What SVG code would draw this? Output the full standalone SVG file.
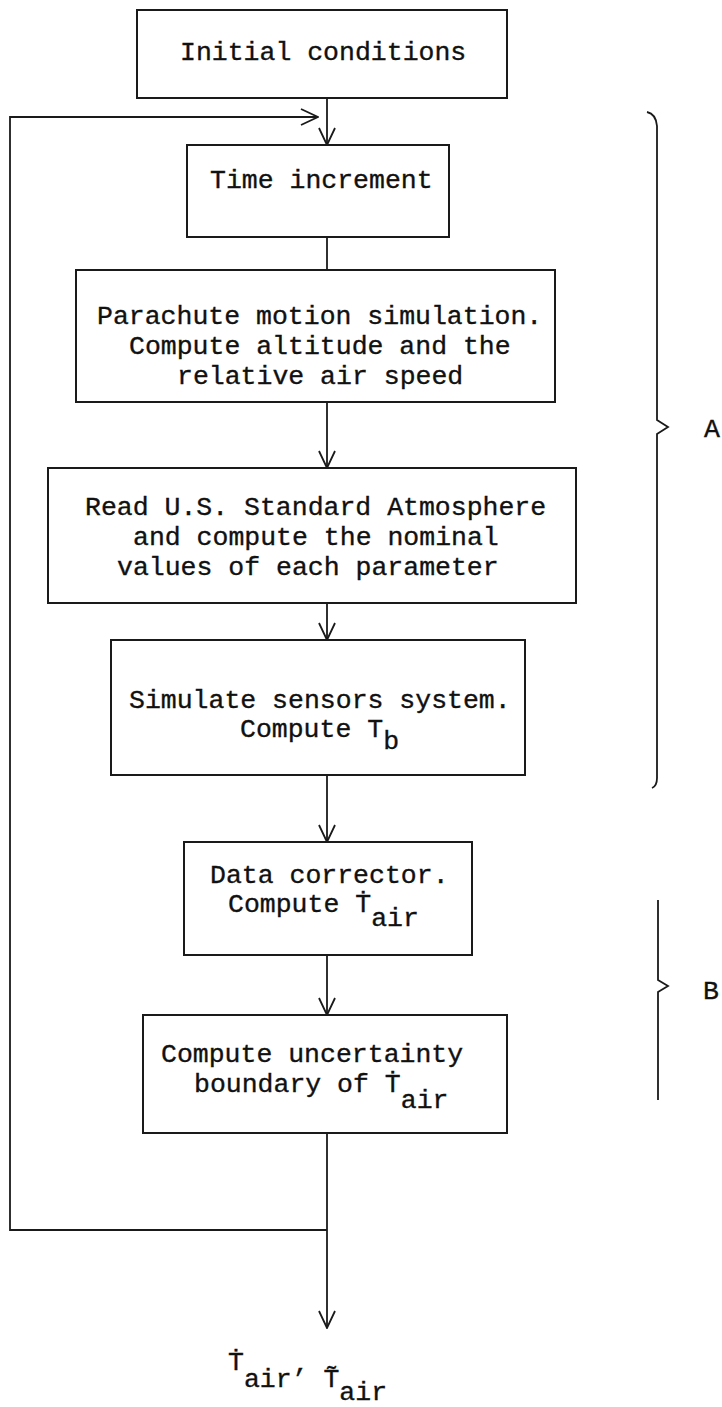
<svg xmlns="http://www.w3.org/2000/svg" width="722" height="1407" viewBox="0 0 722 1407">
<style>
.box{fill:none;stroke:#1a1a1a;stroke-width:2}
.ln{fill:none;stroke:#1a1a1a;stroke-width:1.8}
.t{font-family:"Liberation Mono","DejaVu Sans Mono",monospace;font-size:26.5px;fill:#111;stroke:#111;stroke-width:0.35}
</style>
<defs>
<marker id="ah" viewBox="0 0 20 20" refX="19" refY="10" markerWidth="20" markerHeight="20" markerUnits="userSpaceOnUse" orient="auto">
<path d="M2,2 L19,10 L2,18" fill="none" stroke="#1a1a1a" stroke-width="1.8"/>
</marker>
</defs>
<rect width="722" height="1407" fill="#fff"/>
<g id="connectors">
<line class="ln" x1="327" y1="98" x2="327" y2="145" marker-end="url(#ah)"/>
<line class="ln" x1="327" y1="237" x2="327" y2="270"/>
<line class="ln" x1="327" y1="402" x2="327" y2="468" marker-end="url(#ah)"/>
<line class="ln" x1="327" y1="603" x2="327" y2="640" marker-end="url(#ah)"/>
<line class="ln" x1="327" y1="775" x2="327" y2="842" marker-end="url(#ah)"/>
<line class="ln" x1="327" y1="955" x2="327" y2="1015" marker-end="url(#ah)"/>
<line class="ln" x1="327" y1="1133" x2="327" y2="1328" marker-end="url(#ah)"/>
<path class="ln" d="M327,1230 L10,1230 L10,117 L318,117" marker-end="url(#ah)"/>
</g>
<g id="n1"><rect class="box" x="137" y="10" width="370" height="88"/>
<text class="t" x="180" y="60">Initial conditions</text></g>
<g id="n2"><rect class="box" x="187" y="145" width="262" height="92"/>
<text class="t" x="210" y="188">Time increment</text></g>
<g id="n3"><rect class="box" x="76" y="270" width="479" height="132"/>
<text class="t" x="97" y="324">Parachute motion simulation.</text>
<text class="t" x="129" y="354">Compute altitude and the</text>
<text class="t" x="177" y="384">relative air speed</text></g>
<g id="n4"><rect class="box" x="48" y="468" width="528" height="135"/>
<text class="t" x="85" y="515">Read U.S. Standard Atmosphere</text>
<text class="t" x="133" y="545">and compute the nominal</text>
<text class="t" x="117" y="575">values of each parameter</text></g>
<g id="n5"><rect class="box" x="111" y="640" width="414" height="135"/>
<text class="t" x="129" y="708">Simulate sensors system.</text>
<text class="t" x="240" y="737">Compute T<tspan dy="12">b</tspan></text></g>
<g id="n6"><rect class="box" x="184" y="842" width="288" height="113"/>
<text class="t" x="210" y="883">Data corrector.</text>
<text class="t" x="228" y="912">Compute Ṫ<tspan dy="14">air</tspan></text></g>
<g id="n7"><rect class="box" x="143" y="1015" width="364" height="118"/>
<text class="t" x="161" y="1062">Compute uncertainty</text>
<text class="t" x="194" y="1092">boundary of Ṫ<tspan dy="16">air</tspan></text></g>
<g id="n8"><text class="t" x="228" y="1370">Ṫ<tspan dy="17">air’ T̃</tspan><tspan dy="13">air</tspan></text></g>
<g id="bracketA"><path class="ln" d="M647,112 Q656,114 657,126 L657,420 L668,427 L657,434 L657,778 Q657,786 652,788"/>
<text class="t" x="704" y="437">A</text></g>
<g id="bracketB"><path class="ln" d="M658,900 L658,980 L668,986 L658,992 L658,1100"/>
<text class="t" x="703" y="999">B</text></g>
</svg>
